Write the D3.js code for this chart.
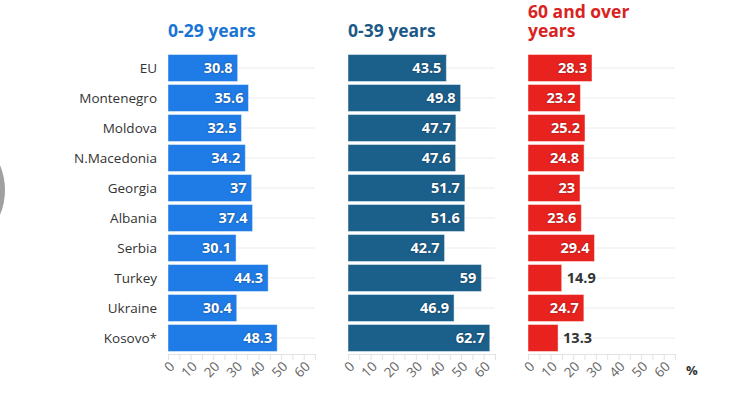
<!DOCTYPE html>
<html>
<head>
<meta charset="utf-8">
<script src="https://cdn.jsdelivr.net/npm/d3@7/dist/d3.min.js"></script>
<style>
  html, body { margin: 0; padding: 0; background: #fff; }
  svg { display: block; font-family: "Open Sans", "Noto Sans", sans-serif; }
</style>
</head>
<body>
<svg id="chart" width="752" height="395"></svg>
<script>
const categories = ["EU", "Montenegro", "Moldova", "N.Macedonia", "Georgia", "Albania", "Serbia", "Turkey", "Ukraine", "Kosovo*"];
const age0to29 = [30.8, 35.6, 32.5, 34.2, 37, 37.4, 30.1, 44.3, 30.4, 48.3];
const age0to39 = [43.5, 49.8, 47.7, 47.6, 51.7, 51.6, 42.7, 59, 46.9, 62.7];
const age60plus = [28.3, 23.2, 25.2, 24.8, 23, 23.6, 29.4, 14.9, 24.7, 13.3];
const tickValues = [0, 10, 20, 30, 40, 50, 60];
const seriesTitles = [["0-29 years"], ["0-39 years"], ["60 and over", "years"]];

const panels = [
  { values: age0to29, title: seriesTitles[0], color: "#1f7be6", titleColor: "#1a74d4", x0: 168 },
  { values: age0to39, title: seriesTitles[1], color: "#1b5f8b", titleColor: "#1b5a86", x0: 348 },
  { values: age60plus, title: seriesTitles[2], color: "#e8231f", titleColor: "#d9231f", x0: 528 }
];

const svg = d3.select("#chart");

// decorative partial circle at left edge
svg.append("circle").attr("cx", -60).attr("cy", 190).attr("r", 65)
  .attr("fill", "#a0a0a0");

const y = d3.scaleBand().domain(categories).range([53, 353]).paddingInner(0.1).paddingOuter(0.05);

// category labels
svg.append("g").selectAll("text").data(categories).join("text")
  .attr("x", 157)
  .attr("y", d => y(d) + y.bandwidth() / 2)
  .attr("dy", "0.35em")
  .attr("text-anchor", "end")
  .attr("font-size", 13.5)
  .attr("fill", "#333")
  .text(d => d);

panels.forEach(p => {
  const x = d3.scaleLinear().domain([0, 65]).range([p.x0, p.x0 + 147]);
  const g = svg.append("g");

  // gridlines
  g.selectAll("line.grid").data(categories).join("line")
    .attr("class", "grid")
    .attr("x1", x(0)).attr("x2", x(65))
    .attr("y1", d => y(d) + y.bandwidth() / 2)
    .attr("y2", d => y(d) + y.bandwidth() / 2)
    .attr("stroke", "#ececec").attr("stroke-width", 1);

  // axis
  const axisG = g.append("g").attr("transform", "translate(0,354)");
  const axis = d3.axisBottom(x).tickValues(d3.range(0, 66, 5)).tickSize(6).tickFormat("");
  axisG.call(axis);
  axisG.select(".domain").attr("stroke", "#e3e3e3");
  axisG.selectAll(".tick line").attr("stroke", "#e3e3e3");

  g.selectAll("text.tick").data(tickValues).join("text")
    .attr("class", "tick")
    .attr("transform", d => `translate(${x(d) + 4},364) rotate(-45)`)
    .attr("text-anchor", "end")
    .attr("dy", "0.35em")
    .attr("font-size", 13.5)
    .attr("fill", "#666")
    .text(d => d);

  // bars
  g.selectAll("rect").data(p.values).join("rect")
    .attr("x", x(0))
    .attr("y", (d, i) => y(categories[i]))
    .attr("width", d => x(d) - x(0))
    .attr("height", y.bandwidth())
    .attr("fill", p.color)
    .attr("stroke", "rgba(255,255,255,0.45)")
    .attr("stroke-width", 1);

  // value labels
  g.selectAll("text.val").data(p.values).join("text")
    .attr("class", "val")
    .attr("x", d => (x(d) - x(0) > 40) ? x(d) - 5 : x(d) + 5)
    .attr("y", (d, i) => y(categories[i]) + y.bandwidth() / 2)
    .attr("dy", "0.36em")
    .attr("text-anchor", d => (x(d) - x(0) > 40) ? "end" : "start")
    .attr("font-size", 14.5)
    .attr("font-weight", "bold")
    .attr("fill", d => (x(d) - x(0) > 40) ? "#fff" : "#333")
    .style("text-shadow", d => (x(d) - x(0) > 40) ? "0 0 2px rgba(0,0,0,0.45)" : "none")
    .text(d => d);

  // title
  const t = g.append("text")
    .attr("x", p.x0)
    .attr("font-size", 17.5)
    .attr("font-weight", "bold")
    .attr("fill", p.titleColor);
  p.title.forEach((line, i) => {
    t.append("tspan").attr("x", p.x0)
      .attr("y", 36.5 - (p.title.length - 1 - i) * 18.5)
      .text(line);
  });
});

svg.append("text").attr("x", 686).attr("y", 375)
  .attr("font-size", 13).attr("font-weight", "bold").attr("fill", "#333")
  .text("%");
</script>
</body>
</html>
